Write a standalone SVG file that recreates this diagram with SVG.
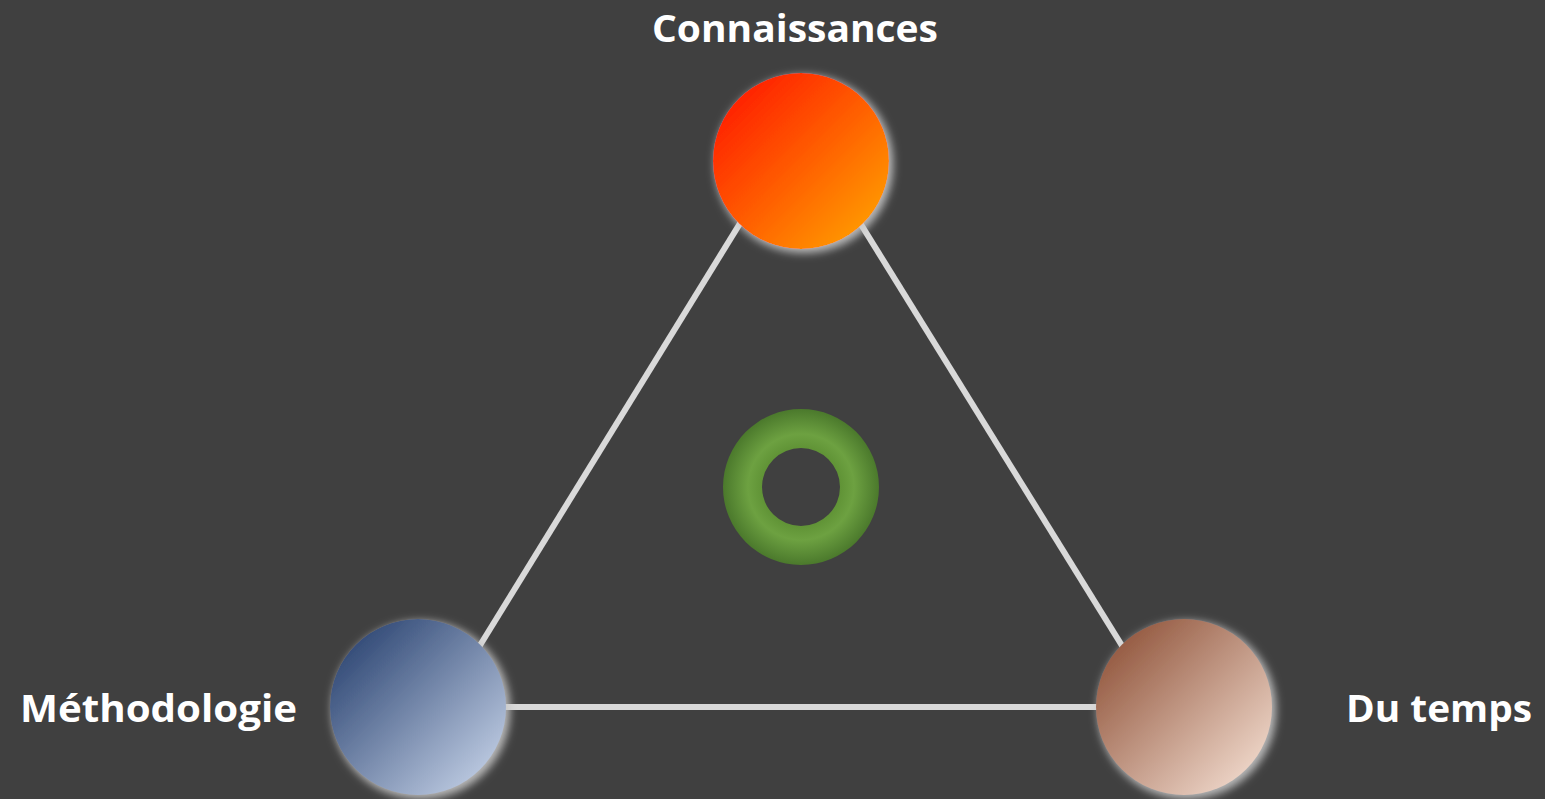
<svg xmlns="http://www.w3.org/2000/svg" width="1545" height="799" viewBox="0 0 1545 799">
<style>
.lbl{font-family:"Open Sans","Liberation Sans",sans-serif;font-weight:700;font-size:38px;fill:#ffffff}
.edge{stroke:#d9d9d9;stroke-width:6;fill:none}
</style>
<defs>
<linearGradient id="gRed" x1="0" y1="0" x2="1" y2="1"><stop offset="0" stop-color="#ff0d00"/><stop offset="1" stop-color="#ffab00"/></linearGradient>
<linearGradient id="gBlue" x1="0" y1="0" x2="1" y2="1"><stop offset="0" stop-color="#1c3666"/><stop offset="1" stop-color="#d0dcf0"/></linearGradient>
<linearGradient id="gBrown" x1="0" y1="0" x2="1" y2="1"><stop offset="0" stop-color="#86462c"/><stop offset="1" stop-color="#fbe8dc"/></linearGradient>
<radialGradient id="gGreen" cx="0.5" cy="0.5" r="0.5"><stop offset="0.5" stop-color="#609336"/><stop offset="0.68" stop-color="#6da141"/><stop offset="1" stop-color="#4b792c"/></radialGradient>
<filter id="glow" x="-30%" y="-30%" width="160%" height="160%">
<feMorphology in="SourceAlpha" operator="dilate" radius="1" result="d"/>
<feGaussianBlur in="d" stdDeviation="4" result="b"/>
<feOffset in="b" dx="3" dy="3" result="o"/>
<feFlood flood-color="#c8c8c8" flood-opacity="0.9"/>
<feComposite in2="o" operator="in" result="s"/>
<feMerge><feMergeNode in="s"/><feMergeNode in="SourceGraphic"/></feMerge>
</filter>
</defs>
<rect width="1545" height="799" fill="#404040"/>
<g id="connectors">
<line class="edge" x1="800" y1="126" x2="442" y2="707"/>
<line class="edge" x1="800" y1="126" x2="1160" y2="707"/>
<line class="edge" x1="420" y1="707" x2="1182" y2="707"/>
</g>
<g id="connaissances">
<circle cx="801" cy="161" r="88" fill="url(#gRed)" filter="url(#glow)"/>
<text class="lbl" x="795" y="42" text-anchor="middle" textLength="286" lengthAdjust="spacingAndGlyphs">Connaissances</text>
</g>
<g id="methodologie">
<circle cx="418" cy="707" r="88" fill="url(#gBlue)" filter="url(#glow)"/>
<text class="lbl" x="20" y="722" textLength="277" lengthAdjust="spacingAndGlyphs">Méthodologie</text>
</g>
<g id="dutemps">
<circle cx="1184" cy="707" r="88" fill="url(#gBrown)" filter="url(#glow)"/>
<text class="lbl" x="1346" y="722" textLength="186" lengthAdjust="spacingAndGlyphs">Du temps</text>
</g>
<g id="centre">
<path d="M723,487 a78,78 0 1,0 156,0 a78,78 0 1,0 -156,0 Z M762,487 a39,39 0 1,0 78,0 a39,39 0 1,0 -78,0 Z" fill="url(#gGreen)" fill-rule="evenodd"/>
</g>
</svg>
